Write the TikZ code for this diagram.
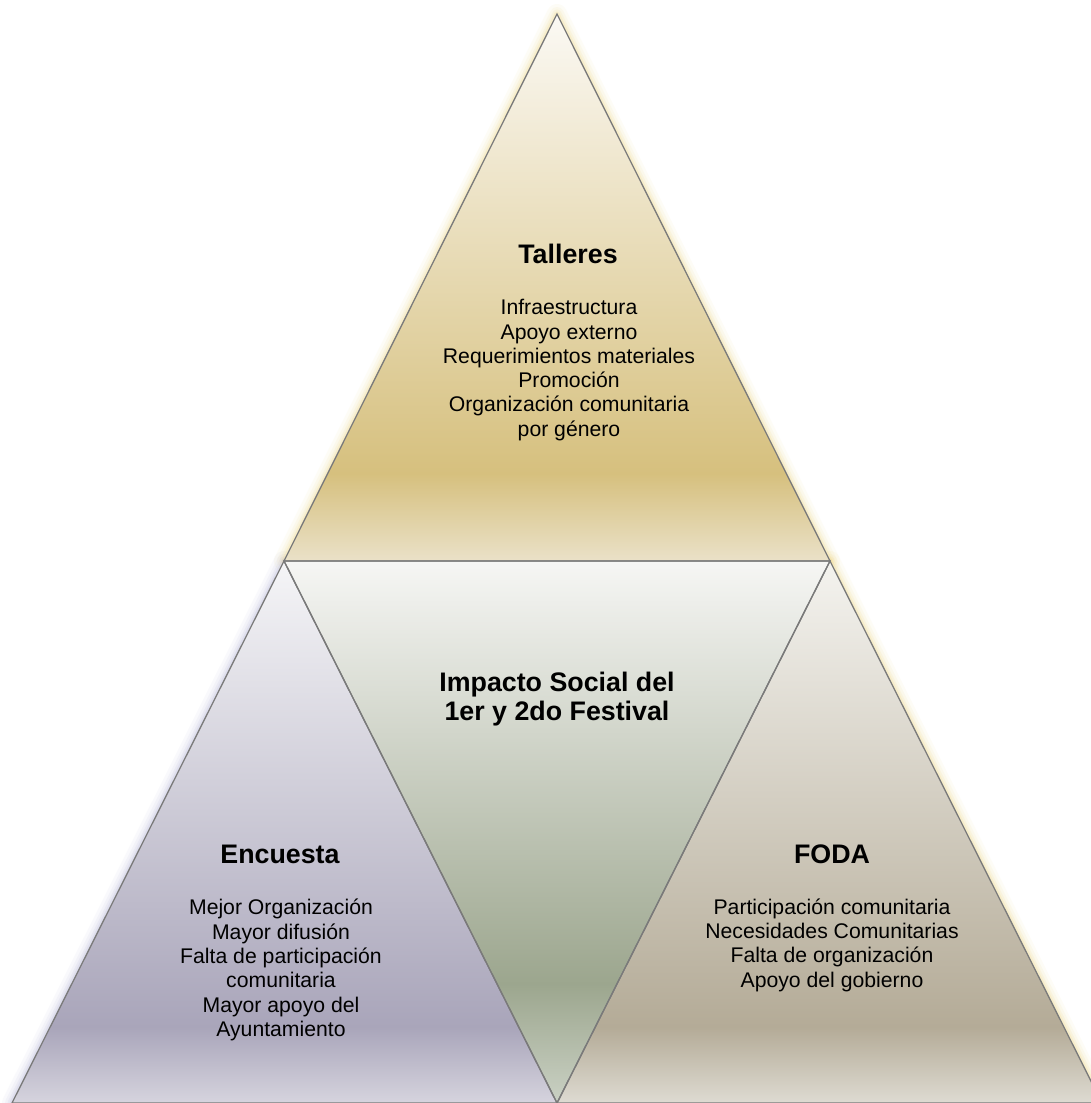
\documentclass[tikz,border=0pt]{standalone}
\usepackage{fontspec}
\setmainfont{Liberation Sans}
\definecolor{tT}{HTML}{FBF9F4}\definecolor{tD}{HTML}{D6C07E}\definecolor{tB}{HTML}{EAE1C8}
\definecolor{lT}{HTML}{F5F5F7}\definecolor{lD}{HTML}{A9A5BA}\definecolor{lB}{HTML}{D6D4DE}
\definecolor{mT}{HTML}{F6F6F4}\definecolor{mD}{HTML}{9CA68E}\definecolor{mB}{HTML}{CAD1C4}
\definecolor{rT}{HTML}{F4F3EF}\definecolor{rD}{HTML}{B4AB97}\definecolor{rB}{HTML}{DEDBD2}
\definecolor{edge}{HTML}{7A7A7A}
\definecolor{glowGold}{HTML}{F0D680}
\definecolor{glowBlue}{HTML}{B4B4D6}
\pgfdeclareverticalshading{shTop}{100bp}{color(0bp)=(tB); color(25bp)=(tB); color(33bp)=(tD); color(75bp)=(tT); color(100bp)=(tT)}
\pgfdeclareverticalshading{shLeft}{100bp}{color(0bp)=(lB); color(25bp)=(lB); color(32bp)=(lD); color(75bp)=(lT); color(100bp)=(lT)}
\pgfdeclareverticalshading{shMid}{100bp}{color(0bp)=(mB); color(25bp)=(mB); color(36bp)=(mD); color(75bp)=(mT); color(100bp)=(mT)}
\pgfdeclareverticalshading{shRight}{100bp}{color(0bp)=(rB); color(25bp)=(rB); color(32bp)=(rD); color(75bp)=(rT); color(100bp)=(rT)}
\tikzset{
  outline/.style={draw=edge, line width=1.3pt, line join=miter},
  titletext/.style={font=\fontsize{26.8}{28.5}\selectfont\bfseries, align=center, text=black},
  bodytext/.style={font=\fontsize{21.2}{24.3}\selectfont, align=center, text=black},
  glow/.style={draw=#1, line join=round}
}
\begin{document}
\begin{tikzpicture}[x=1pt,y=-1pt]
\useasboundingbox (0,0) rectangle (1091,1103);
\clip (0,0) rectangle (1091,1103);
\fill[white] (0,0) rectangle (1091,1103);
% vertices
\coordinate (apex) at (557,14);
\coordinate (ml) at (284,561);
\coordinate (mr) at (830,561);
\coordinate (bl) at (12,1103);
\coordinate (bm) at (557,1103);
\coordinate (br) at (1102,1103);
% glows
\foreach \w/\o in {20/0.07,14/0.09,9/0.13,5/0.2}{
  \draw[glow=glowGold, line width=\w pt, opacity=\o] (apex) -- (ml) -- (mr) -- cycle;
  \draw[glow=glowBlue, line width=\w pt, opacity=\o] (ml) -- (bl) -- (bm) -- cycle;
  \draw[glow=glowGold, line width=\w pt, opacity=\o] (mr) -- (bm) -- (br) -- cycle;
}
% fills
\shade[shading=shTop] (apex) -- (ml) -- (mr) -- cycle;
\shade[shading=shLeft] (ml) -- (bl) -- (bm) -- cycle;
\shade[shading=shRight] (mr) -- (bm) -- (br) -- cycle;
\shade[shading=shMid] (ml) -- (mr) -- (bm) -- cycle;
% outlines
\draw[outline] (apex) -- (ml) -- (mr) -- cycle;
\draw[outline] (ml) -- (bl) -- (bm) -- cycle;
\draw[outline] (mr) -- (bm) -- (br) -- cycle;
\draw[outline] (ml) -- (mr) -- (bm) -- cycle;
% texts
\node[titletext] (talleres) at (568,254) {Talleres};
\node[bodytext] (tallbody) at (569,370) {Infraestructura\\Apoyo externo\\Requerimientos materiales\\Promoción\\Organización comunitaria\\por género};
\node[titletext] (impacto) at (557,699) {Impacto Social del\\1er y 2do Festival};
\node[titletext] (encuesta) at (280,854) {Encuesta};
\node[bodytext] (encbody) at (281,970) {Mejor Organización\\Mayor difusión\\Falta de participación\\comunitaria\\Mayor apoyo del\\Ayuntamiento};
\node[titletext] (foda) at (832,854) {FODA};
\node[bodytext] (fodabody) at (832,945) {Participación comunitaria\\Necesidades Comunitarias\\Falta de organización\\Apoyo del gobierno};
\end{tikzpicture}
\end{document}
